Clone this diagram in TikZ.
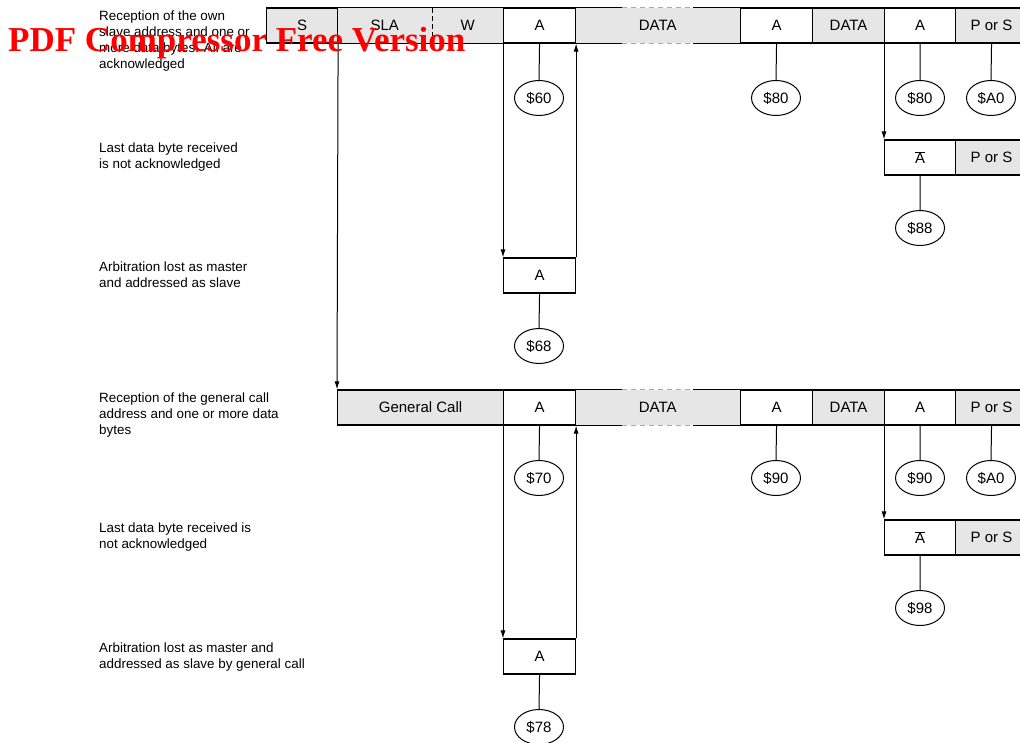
\documentclass[tikz,border=0pt]{standalone}
\usepackage{fontspec}
\setmainfont{Liberation Sans}
\newfontfamily\wmfont{Liberation Serif}
\usetikzlibrary{shapes.geometric,arrows.meta}
\definecolor{gl}{HTML}{E6E6E6}
\definecolor{dg}{HTML}{A8A8A8}
\newcommand{\boxfont}{\fontsize{15}{18}\selectfont}
\newcommand{\lblfont}{\fontsize{13.4}{16}\selectfont}
\tikzset{
  bd/.style={line width=1.1pt},
  cell/.style={draw, line width=1.1pt, minimum height=35pt, inner sep=0pt, font=\boxfont, anchor=west},
  gcell/.style={cell, fill=gl},
  fcell/.style={fill=gl, minimum height=35pt, inner sep=0pt, font=\boxfont, anchor=west},
  ell/.style={ellipse, draw, line width=1pt, minimum width=49pt, minimum height=35pt, inner sep=0pt, font=\boxfont, fill=white},
  link/.style={line width=1pt},
  arr/.style={line width=1pt, -{Latex[length=8pt,width=5pt]}},
  gdash/.style={line width=1.1pt, draw=dg, dash pattern=on 5pt off 4pt},
  lbl/.style={anchor=north west, align=left, inner sep=0pt, font=\lblfont},
}
\begin{document}
\begin{tikzpicture}[x=1pt,y=-1pt]
\useasboundingbox (0,0) rectangle (1020,743);
\begin{scope}
\clip (0,0) rectangle (1020,743);
% ---------- row 1 ----------
\node[fcell, minimum width=95] (sla) at (337,25.5) {SLA};
\node[fcell, minimum width=71] (w) at (432,25.5) {W};
\node[fcell, minimum width=165] (d1) at (575,25.5) {DATA};
\node[gcell, minimum width=71] (s) at (266,25.5) {S};
\node[cell, minimum width=72] (a1) at (503,25.5) {A};
\node[cell, minimum width=72] (a2) at (740,25.5) {A};
\node[gcell, minimum width=72] (d2) at (812,25.5) {DATA};
\node[cell, minimum width=71] (a3) at (884,25.5) {A};
\node[gcell, minimum width=72] (p1) at (955,25.5) {P or S};
\draw[bd] (s.north east) -- (a1.north west);
\draw[bd] (s.south east) -- (a1.south west);
\draw[line width=1pt, dashed, dash pattern=on 5pt off 3pt] (sla.north east) -- (sla.south east);
\draw[bd] (d1.north west) -- +(47,0);
\draw[bd] (d1.north east) -- +(-47,0);
\draw[gdash] (d1.north west) ++(47,0) -- +(71,0);
\draw[bd] (d1.south west) -- +(47,0);
\draw[bd] (d1.south east) -- +(-47,0);
\draw[gdash] (d1.south west) ++(47,0) -- +(71,0);
\node[ell] (e60) at (539,98) {\$60};
\node[ell] (e80a) at (776,98) {\$80};
\node[ell] (e80b) at (920,98) {\$80};
\node[ell] (ea0a) at (991,98) {\$A0};
\draw[link] (a1.south) -- (e60.north);
\draw[link] (a2.south) -- (e80a.north);
\draw[link] (a3.south) -- (e80b.north);
\draw[link] (p1.south) -- (ea0a.north);
% not acknowledged 1
\node[gcell, minimum width=72] (pn1) at (955,157.5) {P or S};
\node[cell, minimum width=71] (na1) at (884,157.5) {$\overline{\mbox{A}}$};
\node[ell] (e88) at (920,228) {\$88};
\draw[link] (na1.south) -- (e88.north);
% arbitration 1
\node[cell, minimum width=72] (ab1) at (503,275.5) {A};
\node[ell] (e68) at (539,346) {\$68};
\draw[link] (ab1.south) -- (e68.north);
% ---------- row 2 ----------
\node[fcell, minimum width=165] (f1) at (575,407.5) {DATA};
\node[gcell, minimum width=166] (gc) at (337,407.5) {General Call};
\node[cell, minimum width=72] (b1) at (503,407.5) {A};
\node[cell, minimum width=72] (b2) at (740,407.5) {A};
\node[gcell, minimum width=72] (f2) at (812,407.5) {DATA};
\node[cell, minimum width=71] (b3) at (884,407.5) {A};
\node[gcell, minimum width=72] (p2) at (955,407.5) {P or S};
\draw[bd] (f1.north west) -- +(47,0);
\draw[bd] (f1.north east) -- +(-47,0);
\draw[gdash] (f1.north west) ++(47,0) -- +(71,0);
\draw[bd] (f1.south west) -- +(47,0);
\draw[bd] (f1.south east) -- +(-47,0);
\draw[gdash] (f1.south west) ++(47,0) -- +(71,0);
\node[ell] (e70) at (539,478) {\$70};
\node[ell] (e90a) at (776,478) {\$90};
\node[ell] (e90b) at (920,478) {\$90};
\node[ell] (ea0b) at (991,478) {\$A0};
\draw[link] (b1.south) -- (e70.north);
\draw[link] (b2.south) -- (e90a.north);
\draw[link] (b3.south) -- (e90b.north);
\draw[link] (p2.south) -- (ea0b.north);
% not acknowledged 2
\node[gcell, minimum width=72] (pn2) at (955,537.5) {P or S};
\node[cell, minimum width=71] (na2) at (884,537.5) {$\overline{\mbox{A}}$};
\node[ell] (e98) at (920,608) {\$98};
\draw[link] (na2.south) -- (e98.north);
% arbitration 2
\node[cell, minimum width=72] (ab2) at (503,656.5) {A};
\node[ell] (e78) at (539,727) {\$78};
\draw[link] (ab2.south) -- (e78.north);
% ---------- arrows ----------
\draw[arr] (a1.south west) -- (ab1.north west);
\draw[arr] (ab1.north east) -- (a1.south east);
\draw[arr] (a3.south west) -- (na1.north west);
\draw[arr] (s.south east) -- (gc.north west);
\draw[arr] (b1.south west) -- (ab2.north west);
\draw[arr] (ab2.north east) -- (b1.south east);
\draw[arr] (b3.south west) -- (na2.north west);
\end{scope}
% ---------- labels ----------
\node[lbl] (l1) at (99,11) {Reception of the own\\slave address and one or\\more data bytes. All are\\acknowledged};
\node[lbl] (l2) at (99,143) {Last data byte received\\is not acknowledged};
\node[lbl] (l3) at (99,262) {Arbitration lost as master\\and addressed as slave};
\node[lbl] (l4) at (99,393) {Reception of the general call\\address and one or more data\\bytes};
\node[lbl] (l5) at (99,523) {Last data byte received is\\not acknowledged};
\node[lbl] (l6) at (99,643) {Arbitration lost as master and\\addressed as slave by general call};
% ---------- watermark ----------
\node[anchor=base west, inner sep=0pt, text=red, font=\wmfont\bfseries\fontsize{35}{40}\selectfont] (wm) at (8,52) {PDF Compressor Free Version};
\end{tikzpicture}
\end{document}
